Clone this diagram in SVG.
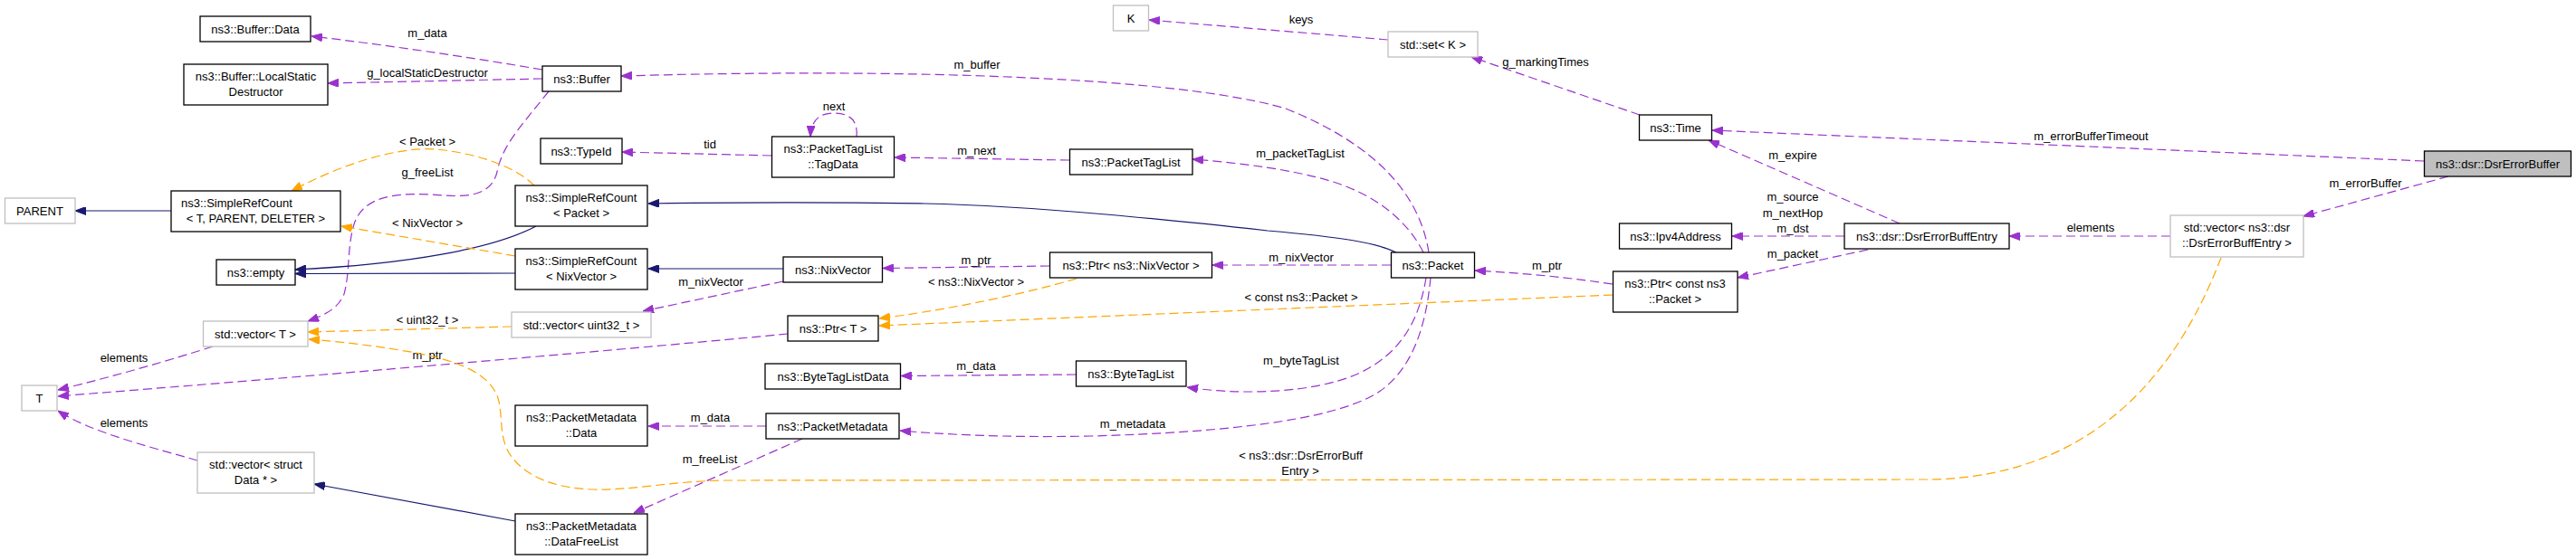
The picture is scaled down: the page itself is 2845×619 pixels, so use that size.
<svg xmlns="http://www.w3.org/2000/svg" width="2845" height="619" viewBox="0 0 2845 619">
<style>
text{font-family:"Liberation Sans",Arial,Helvetica,sans-serif;font-size:13px;fill:#000}
.m{text-anchor:middle}
.s{text-anchor:start}
.node rect{fill:#fff;stroke:#000;stroke-width:1.3}
.node.ext rect{stroke:#bfbfbf}
.node.focus rect{fill:#bfbfbf}
.e{fill:none;stroke-width:1.2}
.p{stroke:#9a32cd;stroke-dasharray:10,5;marker-end:url(#ap)}
.b{stroke:#191970;marker-end:url(#ab)}
.o{stroke:#ffa500;stroke-dasharray:10,5;marker-end:url(#ao)}
</style>
<defs>
<marker id="ap" viewBox="0 0 12 9" refX="12" refY="4.5" markerWidth="12" markerHeight="9" markerUnits="userSpaceOnUse" orient="auto"><path d="M0,0L12,4.5L0,9z" fill="#9a32cd" stroke="#9a32cd"/></marker>
<marker id="ab" viewBox="0 0 12 9" refX="12" refY="4.5" markerWidth="12" markerHeight="9" markerUnits="userSpaceOnUse" orient="auto"><path d="M0,0L12,4.5L0,9z" fill="#191970" stroke="#191970"/></marker>
<marker id="ao" viewBox="0 0 12 9" refX="12" refY="4.5" markerWidth="12" markerHeight="9" markerUnits="userSpaceOnUse" orient="auto"><path d="M0,0L12,4.5L0,9z" fill="#ffa500" stroke="#ffa500"/></marker>
</defs>
<rect width="2845" height="619" fill="#fff"/>
<g id="connectors">
<path class="e p" d="M599,77 Q470,55 344,40"/>
<text class="m" x="472" y="41">m_data</text>
<path class="e p" d="M599,87 L362,92"/>
<text class="m" x="472" y="84.5">g_localStaticDestructor</text>
<path class="e p" d="M1578,279 C1568,215 1520,160 1420,120 C1300,85 1000,75 686,84"/>
<text class="m" x="1079" y="76">m_buffer</text>
<path class="e p" d="M606,101 C575,140 555,160 549,190 C543,215 520,218 490,216 C450,213 405,212 392,245 C383,270 387,300 380,325 C374,340 360,348 340,355"/>
<text class="m" x="472" y="195">g_freeList</text>
<path class="e p" d="M852,172 L687,168"/>
<text class="m" x="784" y="164">tid</text>
<path class="e p" d="M946,151 C948,130 935,125 920,125 C905,125 896,133 895,151"/>
<text class="m" x="921" y="121.5">next</text>
<path class="e p" d="M1181,177 L988,174"/>
<text class="m" x="1078.5" y="171">m_next</text>
<path class="e p" d="M1572,279 C1555,245 1520,215 1469,200 C1430,188 1370,180 1317,176"/>
<text class="m" x="1436" y="173.5">m_packetTagList</text>
<path class="e p" d="M1536,293 L1339,293"/>
<text class="m" x="1437" y="288.5">m_nixVector</text>
<path class="e p" d="M1159,294 L975,296.5"/>
<text class="m" x="1078" y="291.5">m_ptr</text>
<path class="e p" d="M865,311 L710,344"/>
<text class="m" x="785" y="315.5">m_nixVector</text>
<path class="e p" d="M870,369 Q600,395 64,438"/>
<text class="m" x="472" y="396.5">m_ptr</text>
<path class="e p" d="M235,383 Q150,410 64,431"/>
<text class="m" x="137" y="399.5">elements</text>
<path class="e p" d="M218,509 C170,495 100,478 64,454"/>
<text class="m" x="137" y="471.5">elements</text>
<path class="e p" d="M1188,414 L995,415.5"/>
<text class="m" x="1078" y="408.5">m_data</text>
<path class="e p" d="M1575,307 C1568,350 1550,390 1500,413 C1450,435 1370,437 1311,428"/>
<text class="m" x="1437" y="403">m_byteTagList</text>
<path class="e p" d="M1580,307 C1575,360 1560,410 1520,435 C1470,465 1350,478 1205,482 C1110,484 1040,480 994,476"/>
<text class="m" x="1251" y="472.5">m_metadata</text>
<path class="e p" d="M846,471 L716,471"/>
<text class="m" x="784.5" y="465.5">m_data</text>
<path class="e p" d="M886,485 L700,567"/>
<text class="m" x="784" y="511.5">m_freeList</text>
<path class="e p" d="M1781,314 C1720,305 1680,302 1629,299"/>
<text class="m" x="1708.5" y="297.5">m_ptr</text>
<path class="e p" d="M2063,276 L1919,307"/>
<text class="m" x="1980" y="284.5">m_packet</text>
<path class="e p" d="M2037,261 L1913,261"/>
<text class="m" x="1980" y="221.5">m_source</text>
<text class="m" x="1980" y="239.5">m_nextHop</text>
<text class="m" x="1980" y="256.5">m_dst</text>
<path class="e p" d="M2098,247 L1887,155"/>
<text class="m" x="1980" y="175.5">m_expire</text>
<path class="e p" d="M1811,127 L1625,63"/>
<text class="m" x="1707" y="72.5">g_markingTimes</text>
<path class="e p" d="M1533,44 L1269,22"/>
<text class="m" x="1437" y="25.5">keys</text>
<path class="e p" d="M2677,178 L1891,144"/>
<text class="m" x="2309.5" y="155">m_errorBufferTimeout</text>
<path class="e p" d="M2704,195 L2544,239"/>
<text class="m" x="2612.5" y="207">m_errorBuffer</text>
<path class="e p" d="M2397,261 L2219,261"/>
<text class="m" x="2309" y="256">elements</text>
<path class="e b" d="M189,233 L83,233"/>
<path class="e b" d="M592,250 C545,275 450,292 326,298"/>
<path class="e b" d="M569,302 L326,302.5"/>
<path class="e b" d="M1542,279 C1520,268 1480,262 1400,255 C1300,244 1150,228 1021,225 C900,223 780,224 716,225"/>
<path class="e b" d="M865,297 L716,297"/>
<path class="e b" d="M569,576 L347,535"/>
<path class="e o" d="M590,205 C570,185 530,170 482,165 C440,162 380,180 322,211"/>
<text class="m" x="472" y="160.5">&lt; Packet &gt;</text>
<path class="e o" d="M569,283 L377,250"/>
<text class="m" x="472" y="251">&lt; NixVector &gt;</text>
<path class="e o" d="M565,361 L340,367"/>
<text class="m" x="472" y="357.5">&lt; uint32_t &gt;</text>
<path class="e o" d="M2453,285 C2420,370 2340,530 2125,530 L800,531 C740,532 700,542 656,541 C610,540 580,525 565,505 C550,485 556,460 550,440 C540,410 500,398 459,390 C420,383 380,378 341,375"/>
<text class="m" x="1436.5" y="508">&lt; ns3::dsr::DsrErrorBuff</text>
<text class="m" x="1436" y="525">Entry &gt;</text>
<path class="e o" d="M1189,308 C1130,325 1050,342 971,352"/>
<text class="m" x="1078" y="315.5">&lt; ns3::NixVector &gt;</text>
<path class="e o" d="M1781,326 L971,360"/>
<text class="m" x="1437" y="333">&lt; const ns3::Packet &gt;</text>
</g>
<g id="n_bufdata" class="node"><rect x="221" y="18" width="122" height="28"/><text class="m" x="282" y="36.5">ns3::Buffer::Data</text></g>
<g id="n_bufdestr" class="node"><rect x="203" y="71" width="159" height="45"/><text class="m" x="282.5" y="88.5">ns3::Buffer::LocalStatic</text><text class="m" x="282.5" y="105.5">Destructor</text></g>
<g id="n_buffer" class="node"><rect x="599" y="73" width="87" height="28"/><text class="m" x="642.5" y="91.5">ns3::Buffer</text></g>
<g id="n_parent" class="node ext"><rect x="5.5" y="219" width="77.5" height="28"/><text class="m" x="44" y="237.5">PARENT</text></g>
<g id="n_src_tpd" class="node"><rect x="189" y="211" width="187" height="45"/><text class="s" x="200" y="228.5">ns3::SimpleRefCount</text><text class="m" x="282.5" y="245.5">&lt; T, PARENT, DELETER &gt;</text></g>
<g id="n_empty" class="node"><rect x="239" y="287" width="87" height="28"/><text class="m" x="282.5" y="305.5">ns3::empty</text></g>
<g id="n_typeid" class="node"><rect x="597" y="153" width="90" height="28"/><text class="m" x="642" y="171.5">ns3::TypeId</text></g>
<g id="n_src_packet" class="node"><rect x="569" y="205" width="146" height="45"/><text class="m" x="642" y="222.5">ns3::SimpleRefCount</text><text class="m" x="642" y="239.5">&lt; Packet &gt;</text></g>
<g id="n_src_nix" class="node"><rect x="569" y="275" width="146" height="45"/><text class="m" x="642" y="292.5">ns3::SimpleRefCount</text><text class="m" x="642" y="309.5">&lt; NixVector &gt;</text></g>
<g id="n_vect" class="node ext"><rect x="224.5" y="355" width="115.5" height="28"/><text class="m" x="282" y="373.5">std::vector&lt; T &gt;</text></g>
<g id="n_T" class="node ext"><rect x="24" y="426" width="39" height="28"/><text class="m" x="43.5" y="444.5">T</text></g>
<g id="n_vecdata" class="node ext"><rect x="218" y="500" width="129" height="45"/><text class="m" x="282.5" y="517.5">std::vector&lt; struct</text><text class="m" x="282.5" y="534.5">Data * &gt;</text></g>
<g id="n_vecu32" class="node ext"><rect x="565" y="345" width="154" height="28"/><text class="m" x="642" y="363.5">std::vector&lt; uint32_t &gt;</text></g>
<g id="n_pmdata" class="node"><rect x="569" y="448" width="146" height="45"/><text class="m" x="642" y="465.5">ns3::PacketMetadata</text><text class="m" x="642" y="482.5">::Data</text></g>
<g id="n_pmfree" class="node"><rect x="569" y="568" width="146" height="45"/><text class="m" x="642" y="585.5">ns3::PacketMetadata</text><text class="m" x="642" y="602.5">::DataFreeList</text></g>
<g id="n_K" class="node ext"><rect x="1229.5" y="6" width="39" height="28"/><text class="m" x="1249" y="24.5">K</text></g>
<g id="n_tagdata" class="node"><rect x="852.5" y="151" width="135" height="45"/><text class="m" x="920" y="168.5">ns3::PacketTagList</text><text class="m" x="920" y="185.5">::TagData</text></g>
<g id="n_ptl" class="node"><rect x="1181.5" y="165" width="135.5" height="28"/><text class="m" x="1249" y="183.5">ns3::PacketTagList</text></g>
<g id="n_ptrnix" class="node"><rect x="1159.5" y="279" width="179" height="28"/><text class="m" x="1249" y="297.5">ns3::Ptr&lt; ns3::NixVector &gt;</text></g>
<g id="n_nix" class="node"><rect x="865" y="284" width="109.5" height="28"/><text class="m" x="920" y="302.5">ns3::NixVector</text></g>
<g id="n_ptrT" class="node"><rect x="870" y="349" width="100" height="28"/><text class="m" x="920" y="367.5">ns3::Ptr&lt; T &gt;</text></g>
<g id="n_btld" class="node"><rect x="845" y="402" width="149.5" height="28"/><text class="m" x="920" y="420.5">ns3::ByteTagListData</text></g>
<g id="n_btl" class="node"><rect x="1188.5" y="399" width="121.5" height="28"/><text class="m" x="1249" y="417.5">ns3::ByteTagList</text></g>
<g id="n_pm" class="node"><rect x="846" y="457" width="147" height="28"/><text class="m" x="919.5" y="475.5">ns3::PacketMetadata</text></g>
<g id="n_set" class="node ext"><rect x="1533" y="35" width="99" height="28"/><text class="m" x="1582.5" y="53.5">std::set&lt; K &gt;</text></g>
<g id="n_time" class="node"><rect x="1810.5" y="127" width="80" height="28"/><text class="m" x="1850.5" y="145.5">ns3::Time</text></g>
<g id="n_ipv4" class="node"><rect x="1788.5" y="247" width="124" height="28"/><text class="m" x="1850.5" y="265.5">ns3::Ipv4Address</text></g>
<g id="n_entry" class="node"><rect x="2037" y="247" width="182" height="28"/><text class="m" x="2128" y="265.5">ns3::dsr::DsrErrorBuffEntry</text></g>
<g id="n_packet" class="node"><rect x="1536.5" y="279" width="92" height="28"/><text class="m" x="1582.5" y="297.5">ns3::Packet</text></g>
<g id="n_ptrcp" class="node"><rect x="1781.5" y="300" width="137.5" height="45"/><text class="m" x="1850" y="317.5">ns3::Ptr&lt; const ns3</text><text class="m" x="1850" y="334.5">::Packet &gt;</text></g>
<g id="n_errbuf" class="node focus"><rect x="2677.5" y="167" width="162" height="28"/><text class="m" x="2758.5" y="185.5">ns3::dsr::DsrErrorBuffer</text></g>
<g id="n_vecentry" class="node ext"><rect x="2397" y="238" width="147" height="46"/><text class="m" x="2470.5" y="255.5">std::vector&lt; ns3::dsr</text><text class="m" x="2470.5" y="272.5">::DsrErrorBuffEntry &gt;</text></g>
</svg>
